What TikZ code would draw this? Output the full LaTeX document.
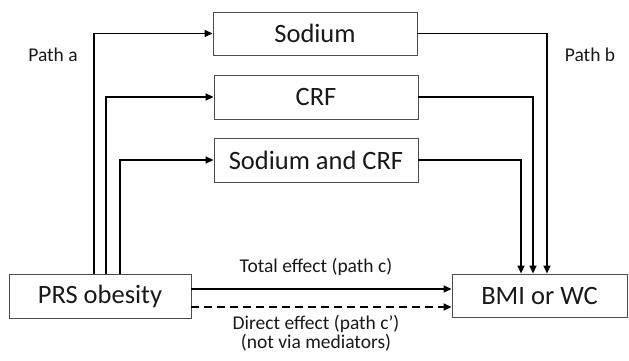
\documentclass[tikz,border=0pt]{standalone}
\usepackage{fontspec}
\setmainfont{Carlito}
\usetikzlibrary{arrows.meta}
\begin{document}
\begin{tikzpicture}[x=1pt,y=1pt,
  box/.style={draw=black!70, line width=0.9pt, fill=white, inner sep=0pt, text=black!90, font=\fontsize{26.5}{29}\selectfont},
  arr/.style={line width=1.6pt, -{Triangle[length=8pt,width=7pt]}},
  lbl/.style={font=\fontsize{19.5}{22}\selectfont, text=black!90, inner sep=0pt}]
\useasboundingbox (0,0) rectangle (629,361);
\node[box, minimum width=204pt, minimum height=43pt] (sodium) at (315,327.5) {Sodium};
\node[box, minimum width=204pt, minimum height=44pt] (crf) at (316,264) {CRF};
\node[box, minimum width=204pt, minimum height=44pt] (both) at (316,201) {Sodium and CRF};
\node[box, minimum width=182pt, minimum height=44pt] (prs) at (100,65) {PRS obesity};
\node[box, minimum width=175pt, minimum height=43pt] (bmi) at (539.5,65.5) {BMI or WC};
\coordinate (a1) at (94,0);
\coordinate (a2) at (106,0);
\coordinate (a3) at (120,0);
\coordinate (b1) at (547,0);
\coordinate (b2) at (533,0);
\coordinate (b3) at (521,0);
\draw[arr] (prs.north -| a1) |- (sodium.west);
\draw[arr] (prs.north -| a2) |- (crf.west);
\draw[arr] (prs.north -| a3) |- (both.west);
\draw[arr] (sodium.east) -| (bmi.north -| b1);
\draw[arr] (crf.east) -| (bmi.north -| b2);
\draw[arr] (both.east) -| (bmi.north -| b3);
\draw[arr] ([yshift=7pt]prs.east) -- ([yshift=7pt]prs.east -| bmi.west);
\draw[arr, dash pattern=on 8pt off 5pt] ([yshift=-11pt]prs.east) -- ([yshift=-11pt]prs.east -| bmi.west);
\node[lbl] (pa) at (53,306) {Path a};
\node[lbl] (pb) at (590,306) {Path b};
\node[lbl] (tot) at (316,94) {Total effect (path c)};
\node[lbl] (dir) at (316,37) {Direct effect (path c’)};
\node[lbl] (not) at (316,18) {(not via mediators)};
\end{tikzpicture}
\end{document}
